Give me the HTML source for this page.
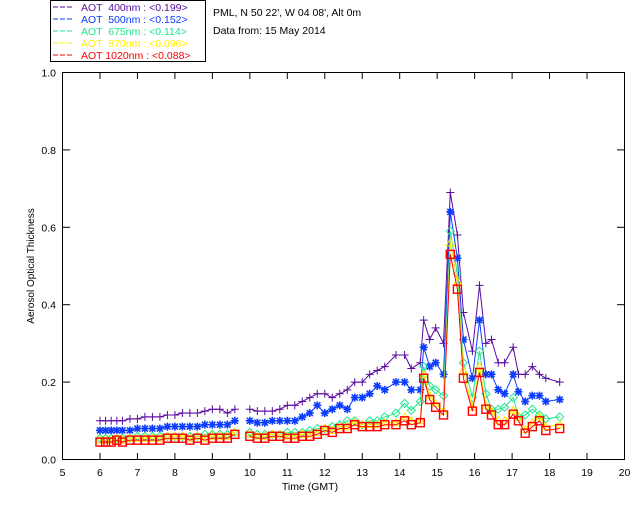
<!DOCTYPE html>
<html><head><meta charset="utf-8"><style>
body{margin:0;background:#fff;width:640px;height:512px;overflow:hidden}
svg{display:block;font-family:"Liberation Sans",sans-serif}
</style></head><body>
<svg id="chart" width="640" height="512" viewBox="0 0 640 512">
<rect x="50.5" y="0.5" width="155" height="61" fill="#fff" stroke="#000"/>
<g id="legend" font-size="10.5"></g>
<text x="213" y="16" font-size="10.5">PML, N 50 22', W 04 08', Alt 0m</text>
<text x="213" y="34" font-size="10.5">Data from: 15 May 2014</text>
<rect x="62.5" y="72.5" width="562" height="387" fill="none" stroke="#000"/>
<g id="axes" font-size="10.5"></g>
<text x="310" y="490" font-size="10.5" text-anchor="middle">Time (GMT)</text>
<text transform="translate(34,266) rotate(-90)" font-size="10" text-anchor="middle">Aerosol Optical Thickness</text>
<g id="series"></g>
</svg>
<script>
const timesAM=[6.0,6.15,6.3,6.45,6.6,6.8,7.0,7.2,7.4,7.6,7.8,8.0,8.2,8.4,8.6,8.8,9.0,9.2,9.4,9.6];
const timesPM=[10.0,10.2,10.4,10.6,10.8,11.0,11.2,11.4,11.6,11.8,12.0,12.2,12.4,12.6,12.8,13.0,13.2,13.4,13.6,13.9,14.13,14.31,14.55,14.64,14.8,14.96,15.17,15.35,15.54,15.7,15.94,16.13,16.3,16.45,16.63,16.8,17.03,17.17,17.35,17.54,17.73,17.9,18.27];
const aot400AM=[0.10,0.10,0.10,0.10,0.10,0.105,0.105,0.11,0.11,0.11,0.115,0.115,0.12,0.12,0.12,0.125,0.13,0.13,0.12,0.13];
const aot400PM=[0.13,0.125,0.125,0.125,0.13,0.14,0.14,0.15,0.16,0.17,0.17,0.16,0.17,0.18,0.20,0.20,0.22,0.23,0.24,0.27,0.27,0.235,0.25,0.36,0.31,0.34,0.30,0.69,0.58,0.38,0.28,0.45,0.30,0.31,0.25,0.25,0.29,0.22,0.22,0.24,0.22,0.21,0.20];
const aot500AM=[0.075,0.075,0.075,0.075,0.075,0.075,0.08,0.08,0.08,0.08,0.085,0.085,0.085,0.085,0.085,0.09,0.09,0.09,0.09,0.10];
const aot500PM=[0.10,0.095,0.095,0.10,0.10,0.10,0.10,0.11,0.12,0.14,0.12,0.13,0.14,0.13,0.16,0.16,0.17,0.19,0.18,0.20,0.20,0.18,0.18,0.29,0.24,0.25,0.22,0.64,0.52,0.31,0.21,0.36,0.22,0.22,0.18,0.17,0.22,0.175,0.15,0.165,0.165,0.15,0.155];
const aot675AM=[0.055,0.055,0.055,0.055,0.055,0.055,0.06,0.06,0.06,0.06,0.06,0.06,0.06,0.06,0.06,0.065,0.065,0.065,0.065,0.07];
const aot675PM=[0.07,0.065,0.065,0.065,0.065,0.07,0.07,0.07,0.075,0.08,0.08,0.085,0.09,0.10,0.10,0.09,0.10,0.10,0.11,0.12,0.145,0.127,0.15,0.24,0.19,0.18,0.165,0.59,0.48,0.25,0.16,0.28,0.17,0.13,0.13,0.135,0.16,0.11,0.115,0.13,0.115,0.105,0.11];
const aot870AM=[0.05,0.05,0.05,0.055,0.05,0.055,0.055,0.055,0.055,0.055,0.06,0.06,0.06,0.055,0.06,0.055,0.06,0.06,0.06,0.07];
const aot870PM=[0.065,0.06,0.06,0.065,0.065,0.06,0.06,0.065,0.065,0.07,0.08,0.075,0.085,0.085,0.095,0.09,0.09,0.09,0.095,0.095,0.11,0.10,0.10,0.22,0.165,0.145,0.125,0.56,0.46,0.23,0.135,0.24,0.14,0.125,0.10,0.10,0.127,0.11,0.078,0.095,0.11,0.085,0.09];
const aot1020AM=[0.045,0.045,0.045,0.05,0.045,0.05,0.05,0.05,0.05,0.05,0.055,0.055,0.055,0.05,0.055,0.05,0.055,0.055,0.055,0.065];
const aot1020PM=[0.06,0.055,0.055,0.06,0.06,0.055,0.055,0.06,0.06,0.065,0.075,0.07,0.08,0.08,0.09,0.085,0.085,0.085,0.09,0.09,0.10,0.09,0.095,0.21,0.155,0.135,0.115,0.53,0.44,0.21,0.125,0.225,0.13,0.115,0.09,0.09,0.117,0.10,0.068,0.085,0.10,0.075,0.08];
const xTicks=[5,6,7,8,9,10,11,12,13,14,15,16,17,18,19,20];
const yTicks=[0.0,0.2,0.4,0.6,0.8,1.0];
const legendLabels=["AOT  400nm : <0.199>","AOT  500nm : <0.152>","AOT  675nm : <0.114>","AOT  870nm : <0.096>","AOT 1020nm : <0.088>"];
const seriesColors=["#5a0aa0","#0a3cff","#1ee68c","#ffee00","#ff0000"];
const seriesNames=["aot-400nm","aot-500nm","aot-675nm","aot-870nm","aot-1020nm"];
const seriesMarkers=["plus","star","diamond","triangle","square"];

const NS="http://www.w3.org/2000/svg";
const X=t=>62.5+(t-5)*(562/15);
const Y=v=>459.5-v*387;
function mk(tag,attrs,parent){const e=document.createElementNS(NS,tag);for(const k in attrs)e.setAttribute(k,attrs[k]);parent.appendChild(e);return e;}
const axes=document.getElementById('axes');
xTicks.forEach(t=>{
  const g=mk('g',{},axes);
  
  
  mk('line',{x1:X(t),x2:X(t),y1:459.5,y2:453,stroke:'#000'},g);
  mk('line',{x1:X(t),x2:X(t),y1:72.5,y2:79,stroke:'#000'},g);
  const tx=mk('text',{x:X(t),y:476,'text-anchor':'middle'},g);tx.textContent=t;
});
yTicks.forEach(v=>{
  const g=mk('g',{},axes);
  
  
  mk('line',{x1:62.5,x2:70,y1:Y(v),y2:Y(v),stroke:'#000'},g);
  mk('line',{x1:624.5,x2:617,y1:Y(v),y2:Y(v),stroke:'#000'},g);
  const tx=mk('text',{x:56,y:Y(v)+4,'text-anchor':'end'},g);tx.textContent=v.toFixed(1);
});
const legend=document.getElementById('legend');
legendLabels.forEach((l,i)=>{
  const g=mk('g',{},legend);
  
  
  const y=11+i*12;
  mk('line',{x1:53,x2:74,y1:y-4,y2:y-4,stroke:seriesColors[i],'stroke-dasharray':'5,2'},g);
  const tx=mk('text',{x:81,y:y,fill:seriesColors[i],'xml:space':'preserve'},g);
  tx.style.whiteSpace='pre';tx.textContent=l;
});
function marker(type,x,y,c,g){
  if(type==='plus'){mk('path',{d:`M${x-4},${y}h8M${x},${y-4}v8`,stroke:c,fill:'none'},g);}
  else if(type==='star'){mk('path',{d:`M${x-4},${y}h8M${x},${y-4}v8M${x-3},${y-3}l6,6M${x-3},${y+3}l6,-6`,stroke:c,fill:'none','stroke-width':1.6},g);}
  else if(type==='diamond'){mk('path',{d:`M${x},${y-4}l4,4l-4,4l-4,-4z`,stroke:c,fill:'none'},g);}
  else if(type==='triangle'){mk('path',{d:`M${x},${y-4}l4,7h-8z`,stroke:c,fill:'none'},g);}
  else {mk('rect',{x:x-4,y:y-4,width:8,height:8,stroke:c,fill:'none','stroke-width':1.4},g);}
}
const seriesData=[[aot400AM,aot400PM],[aot500AM,aot500PM],[aot675AM,aot675PM],[aot870AM,aot870PM],[aot1020AM,aot1020PM]];
const sg=document.getElementById('series');
seriesData.forEach((pair,i)=>{
  const g=mk('g',{},sg);
  
  
  [[timesAM,pair[0]],[timesPM,pair[1]]].forEach(([ts,vs])=>{
    const pts=ts.map((t,j)=>X(t).toFixed(1)+','+Y(vs[j]).toFixed(1)).join(' ');
    const pl=mk('polyline',{points:pts,fill:'none',stroke:seriesColors[i],'stroke-width':1},g);
    
    
    ts.forEach((t,j)=>marker(seriesMarkers[i],X(t),Y(vs[j]),seriesColors[i],g));
  });
});
</script>
</body></html>
